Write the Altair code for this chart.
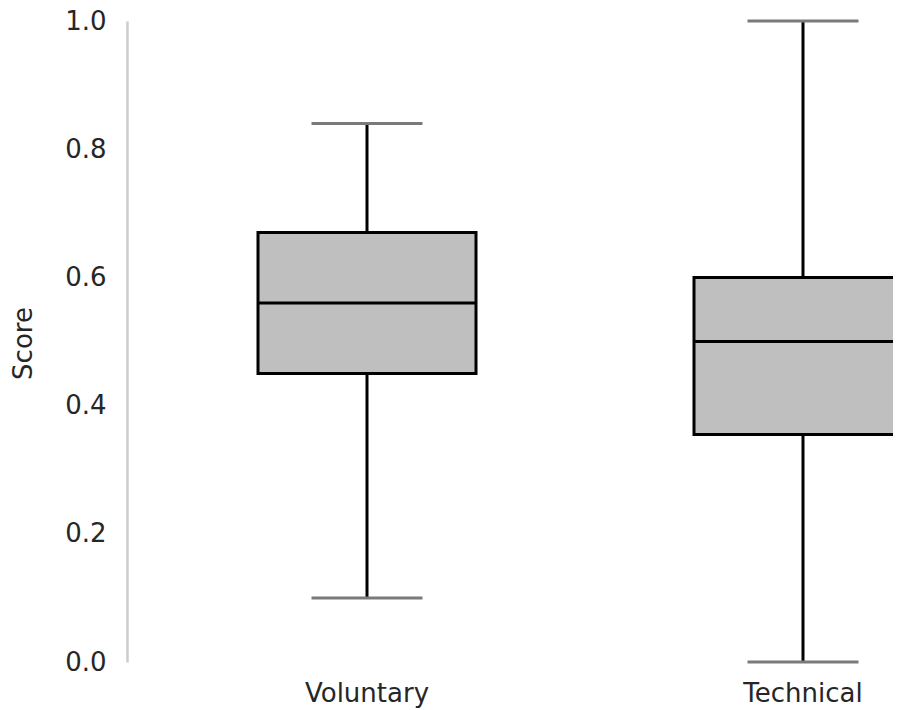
import altair as alt
import pandas as pd

categories = ["Voluntary", "Technical"]
lower_whisker = [0.10, 0.0]
q1 = [0.45, 0.355]
median = [0.56, 0.50]
q3 = [0.67, 0.60]
upper_whisker = [0.84, 1.0]

df = pd.DataFrame({
    "group": categories,
    "lo": lower_whisker,
    "q1": q1,
    "med": median,
    "q3": q3,
    "hi": upper_whisker,
})

FONT = "DejaVu Sans"
TXT = "#262626"

xscale = alt.Scale(domain=categories, range=[22, 894], paddingInner=0, paddingOuter=0)
xenc = alt.X("group:N", scale=xscale, sort=categories, title=None,
             axis=alt.Axis(labelAngle=0, domain=False, ticks=False, labelPadding=18,
                           labelFontSize=26, labelFont=FONT, labelColor=TXT))
yscale = alt.Scale(domain=[0, 1], nice=False, zero=False, padding=0)
yaxis = alt.Axis(values=[0, 0.2, 0.4, 0.6, 0.8, 1.0], format=".1f", grid=False,
                 ticks=False, tickSize=0, labelPadding=21, labelFontSize=26,
                 labelFont=FONT, labelColor=TXT, domainColor="#cccccc", domainWidth=2.5,
                 title="Score", titleFontSize=26, titleFont=FONT, titleColor=TXT,
                 titleFontWeight="normal", titleX=-104, titleY=322, titleAngle=-90,
                 titleAlign="center", titleBaseline="middle")

base = alt.Chart(df)

whisk_low = base.mark_rule(color="black", strokeWidth=3).encode(
    x=xenc, y=alt.Y("lo:Q", scale=yscale, axis=yaxis), y2="q1:Q")
whisk_high = base.mark_rule(color="black", strokeWidth=3).encode(
    x=xenc, y=alt.Y("q3:Q", scale=yscale, axis=yaxis), y2="hi:Q")
cap_low = base.mark_tick(color="#7a7a7a", thickness=3, size=111, opacity=1).encode(
    x=xenc, y=alt.Y("lo:Q", scale=yscale, axis=yaxis))
cap_high = base.mark_tick(color="#7a7a7a", thickness=3, size=111, opacity=1).encode(
    x=xenc, y=alt.Y("hi:Q", scale=yscale, axis=yaxis))
box = base.mark_bar(fill="#bfbfbf", stroke="black", strokeWidth=3, width=218,
                    clip=True, opacity=1).encode(
    x=xenc, y=alt.Y("q1:Q", scale=yscale, axis=yaxis), y2="q3:Q")
med = base.mark_tick(color="black", thickness=3, size=218, opacity=1, clip=True).encode(
    x=xenc, y=alt.Y("med:Q", scale=yscale, axis=yaxis))

chart = alt.layer(whisk_low, whisk_high, cap_low, cap_high, box, med).properties(
    width=766, height=641,
    background="white",
    autosize=alt.AutoSizeParams(type="none"),
    padding={"left": 119, "top": 13, "right": 0, "bottom": 48},
).configure_view(stroke="transparent", strokeWidth=0)

chart.save("out.html", embed_options={"renderer": "svg", "actions": False})
